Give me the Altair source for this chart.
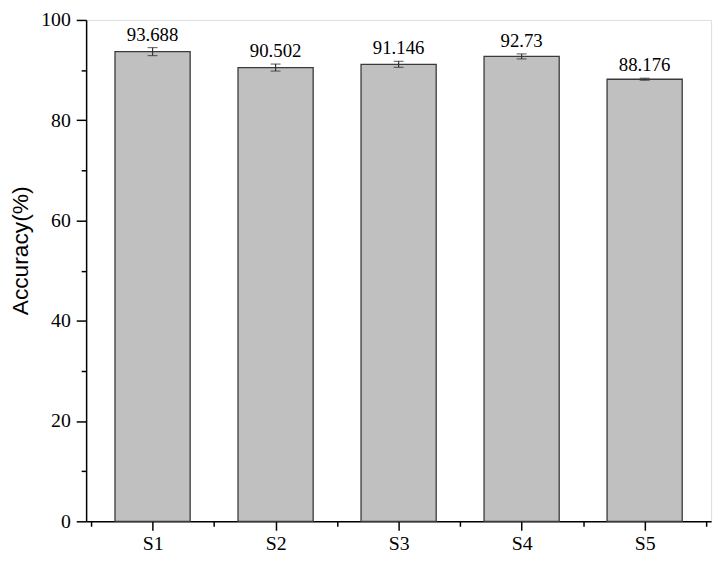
import altair as alt
import pandas as pd
import json

categories = ["S1", "S2", "S3", "S4", "S5"]
accuracy = [93.688, 90.502, 91.146, 92.73, 88.176]
errors = [0.8, 0.7, 0.6, 0.5, 0.2]
labels = ["93.688", "90.502", "91.146", "92.73", "88.176"]
y_ticks = [0, 10, 20, 30, 40, 50, 60, 70, 80, 90, 100]
x_ticks = [0.5, 1, 1.5, 2, 2.5, 3, 3.5, 4, 4.5, 5, 5.5]
y_title = "Accuracy(%)"

df = pd.DataFrame({
    "pos": list(range(1, len(categories) + 1)),
    "cat": categories,
    "acc": accuracy,
    "lo": [a - e for a, e in zip(accuracy, errors)],
    "hi": [a + e for a, e in zip(accuracy, errors)],
    "label": labels,
})

SERIF = "Liberation Serif, Times New Roman, serif"
xscale = alt.Scale(domain=[0.5, 5.5], nice=False, zero=False)
yscale = alt.Scale(domain=[0, 100], nice=False, zero=True)
cat_js = json.dumps(categories)

base = alt.Chart(df)

xaxis = alt.Axis(
    orient="bottom", values=x_ticks, labelAngle=0,
    tickSize={"condition": {"test": "datum.value % 1 != 0", "value": 5}, "value": 9},
    tickWidth=1.5, domainWidth=1.5, domainColor="black", tickColor="black",
    labelExpr=f"datum.value % 1 == 0 ? {cat_js}[datum.value - 1] : ''",
    labelFont=SERIF, labelFontSize=20, labelColor="black", labelPadding=4,
    labelFlush=False, labelOverlap=False, grid=False,
)
yaxis = alt.Axis(
    orient="left", values=y_ticks,
    tickSize={"condition": {"test": "datum.value % 20 != 0", "value": 5}, "value": 10},
    tickWidth=1.5, domainWidth=1.5, domainColor="black", tickColor="black",
    labelExpr="datum.value % 20 == 0 ? datum.label : ''",
    labelFont=SERIF, labelFontSize=20, labelColor="black", labelPadding=6,
    labelFlush=False, labelOverlap=False, grid=False,
    titleFont="Liberation Sans",
    titleFontSize=23, titleFontWeight="normal", titleColor="black",
    titleAngle=-90, titleX=-66, titleY=233,
    titleBaseline="middle", titleAlign="center",
)

bars = base.mark_bar(fill="#c0c0c0", stroke="#3a3a3a", strokeWidth=1.3, width=76).encode(
    x=alt.X("pos:Q", scale=xscale, title=None, axis=xaxis),
    y=alt.Y("acc:Q", scale=yscale, title=y_title, axis=yaxis),
)

err = base.mark_errorbar(ticks=alt.MarkConfig(size=10, color="#333333"), color="#333333",
                         thickness=1.2).encode(
    x=alt.X("pos:Q", scale=xscale, title=None),
    y=alt.Y("lo:Q", scale=yscale, title=y_title),
    y2="hi:Q",
)

text = base.mark_text(baseline="bottom", dy=-3, font=SERIF, fontSize=19, color="black").encode(
    x=alt.X("pos:Q", scale=xscale, title=None),
    y=alt.Y("hi:Q", scale=yscale, title=y_title),
    text="label:N",
)

chart = alt.layer(bars, err, text).properties(
    width=632,
    height=507,
    autosize=alt.AutoSizeParams(type="none"),
    padding={"left": 79, "top": 9, "right": 9, "bottom": 34},
).configure_view(stroke=None).configure(background="white")

chart.save("out.html", embed_options={"renderer": "svg", "actions": False})
